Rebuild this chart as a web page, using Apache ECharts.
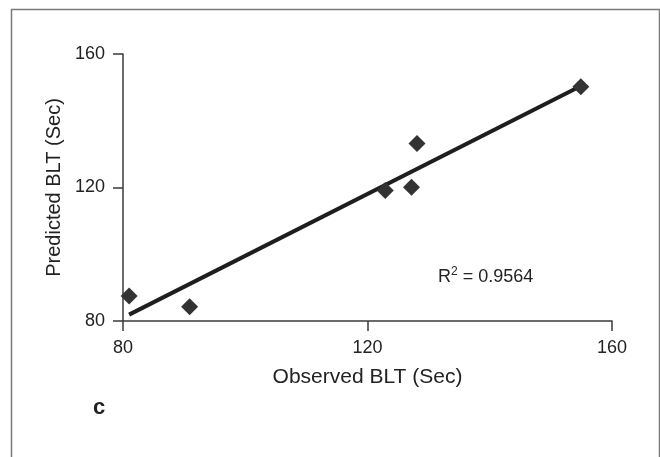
<!DOCTYPE html>
<html><head><meta charset="utf-8">
<script src="https://cdn.jsdelivr.net/npm/echarts@6/dist/echarts.min.js"></script>
<style>html,body{margin:0;padding:0;background:#fff}#c{width:660px;height:457px}</style>
</head><body><div id="c"></div>
<script>
var observed = [81.0, 90.9, 122.9, 127.2, 128.1, 154.9];
var predicted = [87.5, 84.3, 119.1, 120.1, 133.2, 150.2];
var fitX = [81.0, 154.9];
var fitY = [81.9, 150.4];
var rSquared = '0.9564';
var xTitle = 'Observed BLT (Sec)';
var yTitle = 'Predicted BLT (Sec)';
var panelLetter = 'c';

var pts = observed.map(function(x, i){ return [x, predicted[i]]; });
var fit = fitX.map(function(x, i){ return [x, fitY[i]]; });
var font = 'Liberation Sans, Arial, sans-serif';
var axisCol = '#3a3a3a';
var chart = echarts.init(document.getElementById('c'), null, {renderer:'canvas'});
chart.setOption({
  animation:false,
  backgroundColor:'#fff',
  grid:{left:123, right:48, top:54, bottom:136, containLabel:false},
  xAxis:{type:'value', min:80, max:160, interval:40,
    name:xTitle, nameLocation:'middle', nameGap:46,
    nameTextStyle:{fontFamily:font, fontSize:21, color:'#222'},
    axisLine:{show:true, onZero:false, lineStyle:{color:axisCol, width:1.5}},
    axisTick:{show:true, length:10, inside:false, lineStyle:{color:axisCol, width:1.5}},
    axisLabel:{fontFamily:font, fontSize:18, color:'#222', margin:18},
    splitLine:{show:false}},
  yAxis:{type:'value', min:80, max:160, interval:40,
    name:yTitle, nameLocation:'middle', nameGap:56, nameRotate:90,
    nameTextStyle:{fontFamily:font, fontSize:20, color:'#222'},
    axisLine:{show:true, onZero:false, lineStyle:{color:axisCol, width:1.5}},
    axisTick:{show:true, length:10, inside:false, lineStyle:{color:axisCol, width:1.5}},
    axisLabel:{fontFamily:font, fontSize:18, color:'#222', margin:18},
    splitLine:{show:false}},
  series:[
    {type:'line', data:fit, symbol:'none', lineStyle:{color:'#1e1e1e', width:4}, z:3},
    {type:'scatter', data:pts, symbol:'diamond', symbolSize:17, itemStyle:{color:'#333333', opacity:1}, z:4}
  ],
  graphic:[
    {type:'rect', left:9, top:7, shape:{x:0,y:0,width:648,height:470}, style:{fill:'none', stroke:'#7a7a7a', lineWidth:1.5}, silent:true},
    {type:'text', left:438, top:266, style:{
      text:'{n|R}{s|2}{n| = ' + rSquared + '}',
      rich:{n:{fontFamily:font, fontSize:18, fill:'#222', verticalAlign:'bottom', lineHeight:20},
            s:{fontFamily:font, fontSize:12, fill:'#222', verticalAlign:'top', lineHeight:20, padding:[0,0,8,0]}}
    }},
    {type:'text', left:93, top:397, style:{text:panelLetter, fontFamily:font, fontSize:22, fontWeight:'bold', fill:'#222'}}
  ]
});
</script></body></html>
